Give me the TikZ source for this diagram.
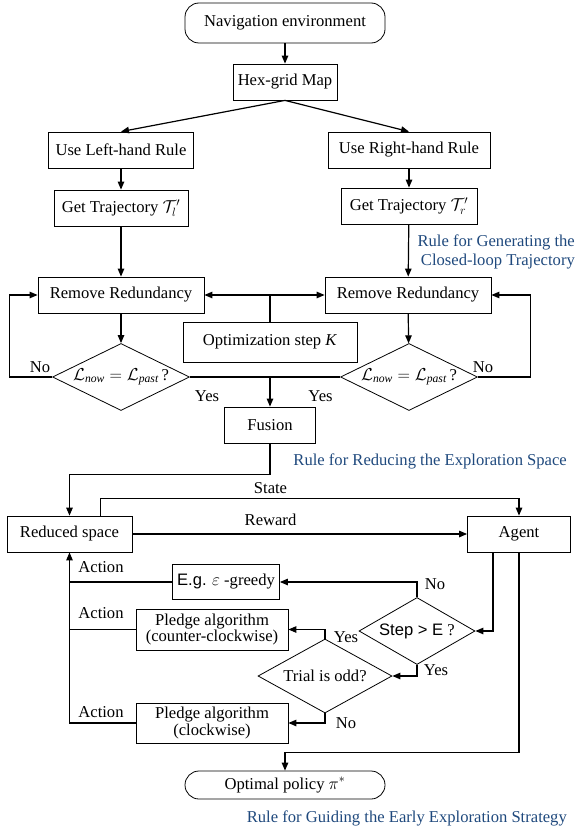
\documentclass[tikz,border=0pt]{standalone}
\usepackage{fontspec}
\setmainfont{Liberation Serif}
\newfontfamily\arialf{Liberation Sans}
\usetikzlibrary{arrows.meta,shapes.geometric}
\definecolor{ruleblue}{RGB}{31,73,125}
\begin{document}
\begin{tikzpicture}[x=1pt,y=-1pt,
  font=\fontsize{16.6}{19.5}\selectfont,
  procbox/.style={draw,line width=0.8pt,inner sep=0pt,minimum height=36pt},
  termbox/.style={draw,line width=0.8pt,inner sep=0pt,rounded corners=14pt},
  decision/.style={diamond,draw,line width=0.8pt,inner sep=0pt},
  conn/.style={line width=1.2pt},
  arr/.style={conn,-{Triangle[length=8pt,width=6.5pt]}},
  lab/.style={inner sep=0pt},
  rulenote/.style={inner sep=0pt,text=ruleblue,align=right}]
\useasboundingbox (0,0) rectangle (575,832);

% nodes
\node[termbox,minimum width=200pt,minimum height=40pt] (nav) at (285,23) {Navigation environment};
\node[procbox,minimum width=104pt] (hex) at (285,82) {Hex-grid Map};
\node[procbox,minimum width=145pt] (useL) at (121,150) {Use Left-hand Rule};
\node[procbox,minimum width=162pt] (useR) at (409,150) {Use Right-hand Rule};
\node[procbox,minimum width=134pt] (getL) at (121,208) {Get Trajectory $\mathcal{T}_{l}^{\prime}$};
\node[procbox,minimum width=136pt] (getR) at (409,206) {Get Trajectory $\mathcal{T}_{r}^{\prime}$};
\node[procbox,minimum width=166pt] (rrL) at (121,295) {Remove Redundancy};
\node[procbox,minimum width=166pt] (rrR) at (408,295) {Remove Redundancy};
\node[procbox,minimum width=174pt,minimum height=40pt] (opt) at (270,342) {Optimization step \textit{K}};
\node[decision,minimum width=137pt,minimum height=67pt] (dL) at (121,377)
  {\makebox[0pt]{$\mathcal{L}_{\mathit{now}} = \mathcal{L}_{\mathit{past}}$\,?}};
\node[decision,minimum width=137pt,minimum height=67pt] (dR) at (409,377)
  {\makebox[0pt]{$\mathcal{L}_{\mathit{now}} = \mathcal{L}_{\mathit{past}}$\,?}};
\node[procbox,minimum width=91pt] (fusion) at (270,425) {Fusion};
\node[procbox,minimum width=125pt] (reduced) at (69.5,534) {Reduced space};
\node[procbox,minimum width=103pt] (agent) at (519,534) {Agent};
\node[procbox,minimum width=107pt,minimum height=35pt] (greedy) at (226,582) {{\arialf E.g.} $\varepsilon$ -greedy};
\node[procbox,minimum width=152pt,minimum height=41pt,align=center] (pccw) at (212,629.5)
  {Pledge algorithm\\[-3pt](counter-clockwise)};
\node[decision,minimum width=116pt,minimum height=67pt] (step) at (417,631)
  {\makebox[0pt]{{\arialf Step > E} ?}};
\node[decision,minimum width=134pt,minimum height=74pt] (trial) at (325,676)
  {\makebox[0pt]{Trial is odd?}};
\node[procbox,minimum width=152pt,minimum height=40pt,align=center] (pcw) at (212,723)
  {Pledge algorithm\\[-3pt](clockwise)};
\node[termbox,minimum width=200pt,minimum height=28pt] (policy) at (285,785) {Optimal policy $\pi^{*}$};

% connectors, top part
\draw[arr] (nav) -- (hex);
\draw[arr] (hex.south) -- (useL.north);
\draw[arr] (hex.south) -- (useR.north);
\draw[arr] (useL) -- (getL);
\draw[arr] (useR) -- (getR);
\draw[arr] (getL) -- (rrL);
\draw[arr] (getR) -- (rrR);
\draw[arr] (rrL) -- (dL);
\draw[arr] (rrR) -- (dR);
\draw[arr] (opt.north) |- (rrL.east);
\draw[arr] (opt.north) |- (rrR.west);
\draw[conn] (dL.east) -- (dR.west);
\coordinate (join) at (fusion.north |- dL.east);
\draw[arr] (join) -- (fusion.north);
\draw[arr] (dL.west) -| ([xshift=-28pt]rrL.west) -- (rrL.west);
\draw[arr] (dR.east) -| ([xshift=39pt]rrR.east) -- (rrR.east);

% connectors, lower part
\draw[arr] (fusion.south) -- ++(0,31) -| (reduced.north);
\draw[arr] ([xshift=31pt]reduced.north) -- ++(0,-17) -| (agent.north);
\draw[arr] (reduced.east) -- (agent.west);
\draw[arr] (agent.south) -- ++(0,200) -| (policy.north);
\draw[arr] ([xshift=-26pt]agent.south) |- (step.east);
\draw[arr] (step.north) |- (greedy.east);
\draw[arr] (step.south) |- (trial.east);
\draw[arr] (trial.north) |- (pccw.east);
\draw[arr] (trial.south) |- (pcw.east);
\draw[conn] (greedy.west) -- (greedy.west -| reduced.south);
\draw[conn] (pccw.west) -- (pccw.west -| reduced.south);
\draw[arr] (pcw.west) -| (reduced.south);

% labels
\node[lab] (noL) at (40,367) {No};
\node[lab] (noR) at (483,367) {No};
\node[lab] (yesL) at (207,396) {Yes};
\node[lab] (yesR) at (320.5,396) {Yes};
\node[lab] (state) at (270.5,488) {State};
\node[lab] (reward) at (270.5,520) {Reward};
\node[lab] (act1) at (101,567) {Action};
\node[lab] (act2) at (101,613) {Action};
\node[lab] (act3) at (101,712) {Action};
\node[lab] (noG) at (435,584) {No};
\node[lab] (yesS) at (436,670) {Yes};
\node[lab] (yesT) at (346,637) {Yes};
\node[lab] (noT) at (346,723) {No};

% rule notes
\node[rulenote,anchor=east] (note1) at (575,252) {Rule for Generating the\\Closed-loop Trajectory};
\node[rulenote,anchor=east] (note2) at (567,461) {Rule for Reducing the Exploration Space};
\node[rulenote,anchor=east] (note3) at (567,818) {Rule for Guiding the Early Exploration Strategy};
\end{tikzpicture}
\end{document}
